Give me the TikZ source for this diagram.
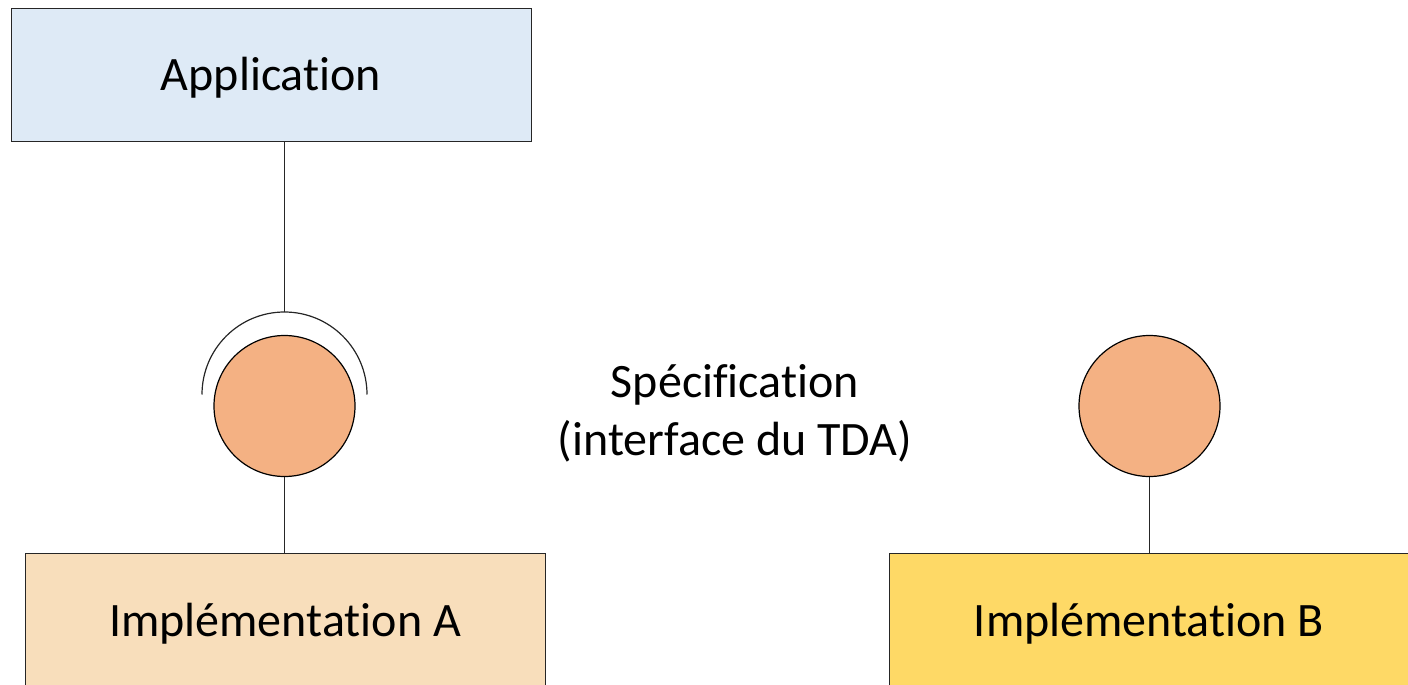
\documentclass[tikz,border=0pt]{standalone}
\usepackage{fontspec}
\setmainfont[Ligatures=NoCommon]{Carlito}
\definecolor{appblue}{HTML}{DEEAF6}
\definecolor{impla}{HTML}{F8DEBB}
\definecolor{implb}{HTML}{FED966}
\definecolor{iface}{HTML}{F4B183}
\begin{document}
\begin{tikzpicture}[x=1pt,y=-1pt,
  box/.style={draw=black!85, line width=1.2pt, inner sep=0pt, anchor=north west},
  lbl/.style={font=\fontsize{48}{58}\selectfont, text=black},
  ball/.style={circle, draw=black, line width=1.2pt, fill=iface, minimum size=141pt, inner sep=0pt},
  wire/.style={draw=black!85, line width=1.2pt}]
\useasboundingbox (0,0) rectangle (1408,685);
\node[box, fill=appblue, minimum width=520pt, minimum height=133pt] (app) at (11,8) {};
\node[lbl] (applbl) at (271,78) {Application};
\node[box, fill=impla, minimum width=520pt, minimum height=140pt] (impA) at (25,553) {};
\node[lbl] (impAlbl) at (285,624) {Implémentation A};
\node[box, fill=implb, minimum width=522pt, minimum height=140pt] (impB) at (889,553) {};
\node[lbl] (impBlbl) at (1149,624) {Implémentation B};
\node[ball] (ballA) at (284.5,406) {};
\node[ball] (ballB) at (1149.5,406) {};
\coordinate (arcc) at (284.5,394.5);
\coordinate (arctop) at (284.5,312);
\draw[wire] ([xshift=82.5pt]arcc) arc[start angle=0, end angle=180, radius=82.5pt];
\draw[wire] (app.south -| arctop) -- (arctop);
\draw[wire] (ballA.south) -- (ballA.south |- impA.north);
\draw[wire] (ballB.south) -- (ballB.south |- impB.north);
\node[lbl, align=center] (spec) at (735,413) {Spécification\\(interface du TDA)};
\end{tikzpicture}
\end{document}
